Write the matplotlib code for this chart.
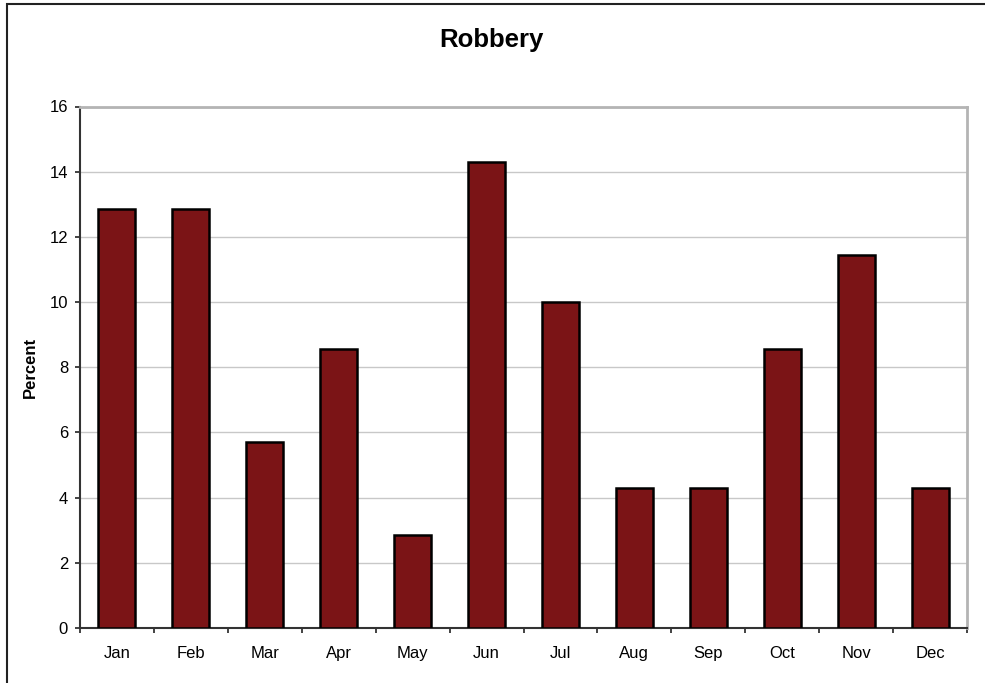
import matplotlib.pyplot as plt
from matplotlib.patches import Rectangle

plt.rcParams['font.family'] = ['Liberation Sans', 'DejaVu Sans']

meses = ['Jan', 'Feb', 'Mar', 'Apr', 'May', 'Jun', 'Jul', 'Aug', 'Sep', 'Oct', 'Nov', 'Dec']
porcentaje = [12.86, 12.86, 5.71, 8.57, 2.86, 14.29, 10.0, 4.29, 4.29, 8.57, 11.43, 4.29]
yticks = [0, 2, 4, 6, 8, 10, 12, 14, 16]

fig = plt.figure(figsize=(9.85, 6.83), dpi=100)
ax = fig.add_axes([80 / 985, 1 - 628 / 683, 887 / 985, 521.5 / 683])

# marco de la figura (se sale por la derecha y abajo)
fig.patches.append(Rectangle((7 / 985, -0.1), 1.2, 1 - 4.5 / 683 + 0.1,
                             transform=fig.transFigure, fill=False,
                             edgecolor='#222222', linewidth=1.5))

x = list(range(len(meses)))
ax.bar(x, porcentaje, width=0.5, color='#7B1416', edgecolor='black', linewidth=1.8, zorder=3)

ax.set_xlim(-0.5, len(meses) - 0.5)
ax.set_ylim(0, 16)
ax.set_yticks(yticks)
ax.set_xticks(x)
ax.set_xticklabels(meses)
ax.set_xticks([i - 0.5 for i in range(len(meses) + 1)], minor=True)
ax.tick_params(axis='x', which='major', length=0, pad=13, labelsize=12)
ax.tick_params(axis='x', which='minor', length=3.6, width=1.2, color='#222222')
ax.tick_params(axis='y', length=3.6, width=1.2, color='#222222', labelsize=12, pad=5)

ax.grid(axis='y', color='#c8c8c8', linewidth=1, zorder=0)
ax.spines['left'].set_color('#333333')
ax.spines['left'].set_linewidth(1.5)
ax.spines['bottom'].set_color('#333333')
ax.spines['bottom'].set_linewidth(1.5)
ax.spines['top'].set_color('#b4b4b4')
ax.spines['top'].set_linewidth(2)
ax.spines['right'].set_color('#b4b4b4')
ax.spines['right'].set_linewidth(2)

fig.text(30 / 985, 1 - 367 / 683, 'Percent', fontsize=12, fontweight='bold',
         rotation=90, ha='center', va='center')
fig.text(491 / 985, 1 - 40 / 683, 'Robbery', fontsize=18.5, fontweight='bold', ha='center', va='center')

plt.savefig('out.png', dpi=100)
